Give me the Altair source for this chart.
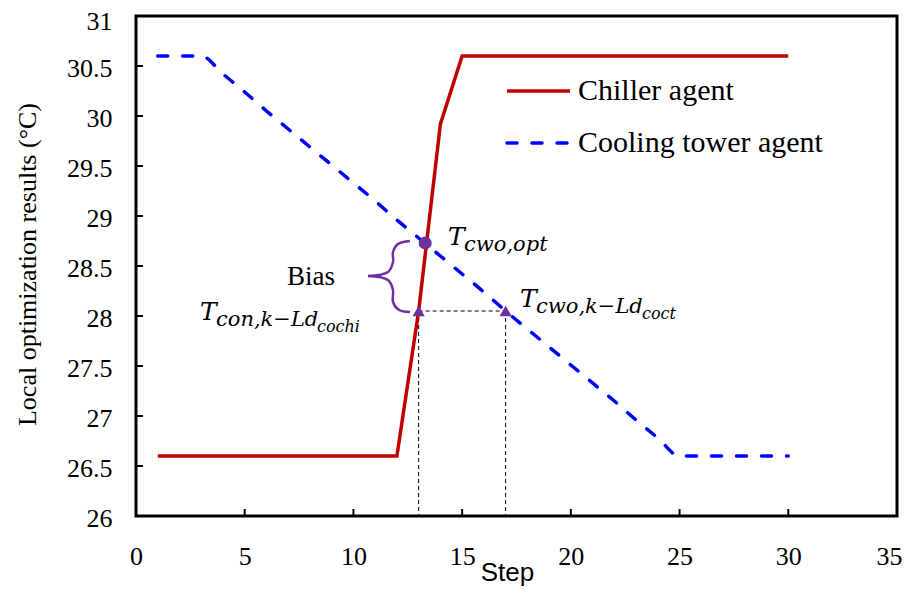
import altair as alt
import pandas as pd

# ---- data ----
steps = list(range(1, 31))
chiller = [26.6] * 12 + [28.05, 29.92] + [30.6] * 16
tower = [30.6, 30.6, 30.6, 30.42, 30.24, 30.05, 29.87, 29.69, 29.51, 29.33,
         29.15, 28.96, 28.78, 28.6, 28.42, 28.24, 28.05, 27.87, 27.69, 27.51,
         27.33, 27.15, 26.96, 26.78, 26.6, 26.6, 26.6, 26.6, 26.6, 26.6]

opt_x = [13.3]
opt_y = [28.73]
tri_x = [13, 17]
tri_y = [28.05, 28.05]

# curly brace (annotation drawing), two halves meeting at the tip
brace_x = [12.60, 12.05, 11.82, 11.82, 11.59, 10.67,
           10.67, 11.59, 11.82, 11.82, 12.10, 12.60]
brace_y = [28.75, 28.72, 28.64, 28.54, 28.44, 28.40,
           28.40, 28.36, 28.26, 28.14, 28.06, 28.04]
brace_part = ["top"] * 6 + ["bottom"] * 6

x_ticks = [0, 5, 10, 15, 20, 25, 30, 35]
y_ticks = [26, 26.5, 27, 27.5, 28, 28.5, 29, 29.5, 30, 30.5, 31]
x_inner = [5, 10, 15, 20, 25, 30]
y_inner = [26.5, 27, 27.5, 28, 28.5, 29, 29.5, 30, 30.5]

RED = "#C00000"
BLUE = "#0000FF"
PURPLE = "#7030A0"
SERIF = "Liberation Serif"
SANS = "Liberation Sans"
MATH = "DejaVu Serif"

W, H = 761, 500

xs = alt.Scale(domain=[0, 35], nice=False, zero=False)
ys = alt.Scale(domain=[26, 31], nice=False, zero=False)

X = alt.X("x:Q", scale=xs, axis=alt.Axis(
    values=x_ticks, format="d", title="Step", ticks=False, domain=False, grid=False,
    labelFlush=False, labelOverlap=False,
    labelAlign={"condition": {"test": "datum.value == 35", "value": "right"}, "value": "center"},
    labelOffset={"condition": {"test": "datum.value == 35", "value": 5}, "value": 0},
    labelFont=SERIF, labelFontSize=26, labelColor="black", labelPadding=27,
    titleFont=SANS, titleFontSize=26, titleFontWeight="normal",
    titleColor="black", titleX=371, titleY=64, titleBaseline="alphabetic",
    titleAlign="center"))
Y = alt.Y("y:Q", scale=ys, axis=alt.Axis(
    values=y_ticks, format="~g", title="Local optimization results (°C)",
    ticks=False, domain=False, grid=False, labelFlush=False, labelOverlap=False,
    labelFont=SERIF, labelFontSize=26, labelColor="black", labelPadding=24,
    labelOffset={"condition": {"test": "datum.value == 31", "value": 5}, "value": 2},
    titleFont=SERIF, titleFontSize=26, titleFontWeight="normal", titleColor="black",
    titleAngle=270, titleX=-101, titleY=248, titleBaseline="alphabetic",
    titleAlign="center"))

df_ch = pd.DataFrame({"x": steps, "y": chiller})
df_tw = pd.DataFrame({"x": steps, "y": tower})

chiller_line = alt.Chart(df_ch).mark_line(color=RED, strokeWidth=3.5).encode(x=X, y=Y)
tower_line = alt.Chart(df_tw).mark_line(
    color=BLUE, strokeWidth=3.5, strokeDash=[10, 15], strokeCap="round",
    interpolate="monotone").encode(x=X, y=Y)

# dashed guide lines from the two triangles
df_h = pd.DataFrame({"x": [tri_x[0]], "x2": [tri_x[1]], "y": [tri_y[0]]})
hguide = alt.Chart(df_h).mark_rule(color="black", strokeWidth=1, strokeDash=[4, 3]).encode(
    x=X, x2="x2:Q", y="y:Q")
df_v = pd.DataFrame({"x": tri_x, "y": tri_y, "y2": [26, 26]})
vguide = alt.Chart(df_v).mark_rule(color="black", strokeWidth=1, strokeDash=[4, 3]).encode(
    x="x:Q", y="y:Q", y2="y2:Q")

df_b = pd.DataFrame({"x": brace_x, "y": brace_y, "part": brace_part,
                     "o": list(range(len(brace_x)))})
brace = alt.Chart(df_b).mark_line(color=PURPLE, strokeWidth=2.5,
                                  interpolate="catmull-rom").encode(
    x="x:Q", y="y:Q", detail="part:N", order="o:Q")

circle = alt.Chart(pd.DataFrame({"x": opt_x, "y": opt_y})).mark_point(
    shape="circle", filled=True, color=PURPLE, size=170, opacity=1).encode(x="x:Q", y="y:Q")
tris = alt.Chart(pd.DataFrame({"x": tri_x, "y": tri_y})).mark_point(
    shape="triangle-up", filled=True, color=PURPLE, size=150, opacity=1).encode(x="x:Q", y="y:Q")

# inner tick marks
yt = alt.Chart(pd.DataFrame({"y": y_inner})).mark_rule(color="black", strokeWidth=2).encode(
    y="y:Q", x=alt.value(0), x2=alt.value(7))
xt = alt.Chart(pd.DataFrame({"x": x_inner})).mark_rule(color="black", strokeWidth=2).encode(
    x="x:Q", y=alt.value(H), y2=alt.value(H - 7))


def label(text, px, py, size, font=SERIF, style="normal", align="left",
          baseline="alphabetic", color="black"):
    return alt.Chart(pd.DataFrame({"t": [text]})).mark_text(
        font=font, fontSize=size, fontStyle=style, align=align, baseline=baseline,
        color=color).encode(text="t:N", x=alt.value(px), y=alt.value(py))


labels = [
    label("Bias", 175, 269, 27, align="center"),
    # T_cwo,opt
    label("T", 312, 229, 25, font=MATH, style="italic"),
    label("cwo,opt", 328, 235, 21, font=MATH, style="italic"),
    # T_con,k-Ld_cochi
    label("T", 64, 304, 25, font=MATH, style="italic"),
    label("con,k\u2212Ld", 80, 310, 21, font=MATH, style="italic"),
    label("cochi", 181, 316, 16, font=MATH, style="italic"),
    # T_cwo,k-Ld_coct
    label("T", 384, 291, 25, font=MATH, style="italic"),
    label("cwo,k\u2212Ld", 400, 297, 21, font=MATH, style="italic"),
    label("coct", 506, 303, 16, font=MATH, style="italic"),
    # legend
    label("Chiller agent", 442, 75, 30, baseline="middle"),
    label("Cooling tower agent", 442, 127, 30, baseline="middle"),
]

leg_red = alt.Chart(pd.DataFrame({"k": [0]})).mark_rule(color=RED, strokeWidth=3.5).encode(
    x=alt.value(371), x2=alt.value(434), y=alt.value(75))
leg_blue = alt.Chart(pd.DataFrame({"k": [0]})).mark_rule(
    color=BLUE, strokeWidth=3.5, strokeDash=[10, 15], strokeCap="round").encode(
    x=alt.value(371), x2=alt.value(434), y=alt.value(127))

chart = alt.layer(
    hguide, vguide, chiller_line, tower_line, brace, circle, tris, yt, xt,
    leg_red, leg_blue, *labels
).properties(
    width=W, height=H,
    autosize=alt.AutoSizeParams(type="none"),
    padding={"left": 128, "top": 8, "right": 6, "bottom": 74},
).configure_view(
    stroke="black", strokeWidth=3
)

chart.save("out.html", embed_options={"renderer": "svg", "actions": False})
